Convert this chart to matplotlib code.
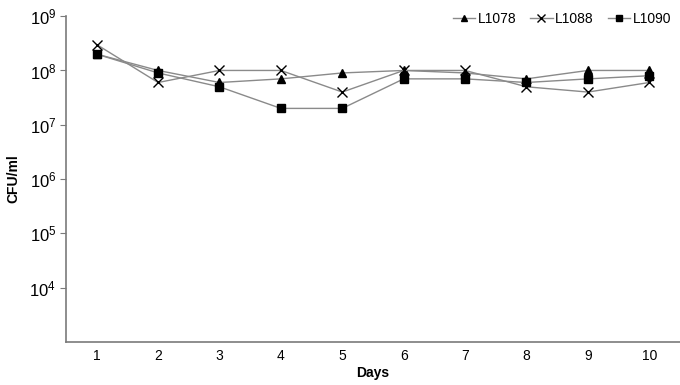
import matplotlib
matplotlib.use("Agg")
import matplotlib.pyplot as plt
from matplotlib.ticker import LogFormatterSciNotation, NullLocator

plt.rcParams["font.family"] = ["Liberation Sans", "DejaVu Sans"]

days = [1, 2, 3, 4, 5, 6, 7, 8, 9, 10]
l1078 = [2e8, 1e8, 6e7, 7e7, 9e7, 1e8, 9e7, 7e7, 1e8, 1e8]
l1088 = [3e8, 6e7, 1e8, 1e8, 4e7, 1e8, 1e8, 5e7, 4e7, 6e7]
l1090 = [2e8, 9e7, 5e7, 2e7, 2e7, 7e7, 7e7, 6e7, 7e7, 8e7]

fig = plt.figure(figsize=(6.8, 3.85), dpi=100)
ax = fig.add_axes([0.097, 0.112, 0.903, 0.846])

line_col = "#8a8a8a"
ax.plot(days, l1078, color=line_col, lw=1, marker="^", ms=5.5,
        mfc="black", mec="black", label="L1078")
ax.plot(days, l1088, color=line_col, lw=1, marker="x", ms=6.5,
        mec="black", mew=1.0, label="L1088")
ax.plot(days, l1090, color=line_col, lw=1, marker="s", ms=6,
        mfc="black", mec="black", label="L1090")

ax.set_yscale("log")
ax.set_ylim(1e3, 1e9)
ax.set_xlim(0.5, 10.5)
ax.set_yticks([1e4, 1e5, 1e6, 1e7, 1e8, 1e9])
ax.yaxis.set_major_formatter(LogFormatterSciNotation())
ax.yaxis.set_minor_locator(NullLocator())
ax.set_xticks(days)

for s in ["top", "right"]:
    ax.spines[s].set_visible(False)
for s in ["left", "bottom"]:
    ax.spines[s].set_color("#7a7a7a")
    ax.spines[s].set_linewidth(1.2)
ax.tick_params(axis="y", colors="#7a7a7a", labelcolor="black",
               labelsize=12, length=4, pad=3)
ax.tick_params(axis="x", length=0, labelsize=10, pad=5)

ax.set_xlabel("Days", fontweight="bold", fontsize=10)
ax.xaxis.set_label_coords(0.5, -0.075)
ax.set_ylabel("CFU/ml", fontweight="bold", fontsize=10)
ax.yaxis.set_label_coords(-0.075, 0.5)

ax.legend(loc="upper right", ncol=3, frameon=False, fontsize=10,
          markerscale=0.8, handlelength=1.6, columnspacing=1.0,
          handletextpad=0.2, borderaxespad=0.0,
          bbox_to_anchor=(0.995, 1.03))

fig.savefig("out.png", dpi=100)
